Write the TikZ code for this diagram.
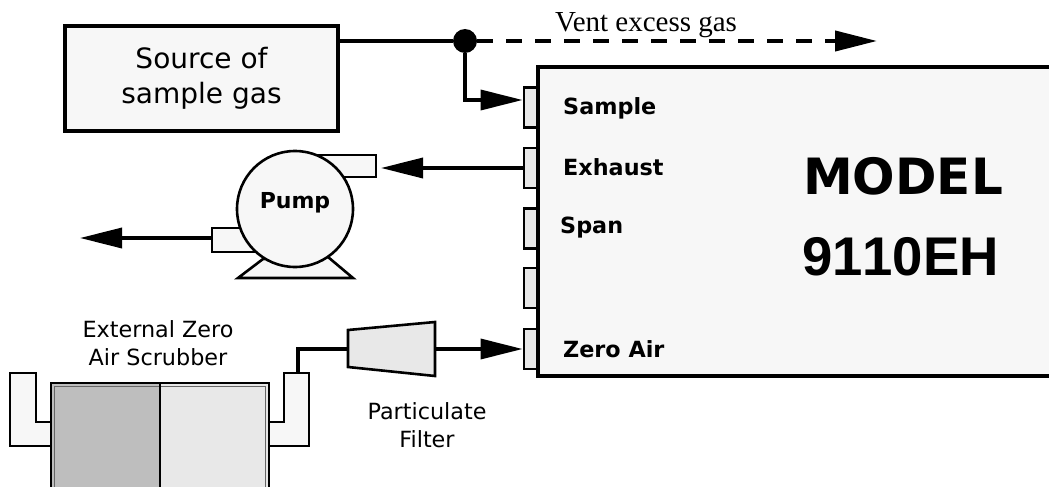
\documentclass[tikz,border=0pt]{standalone}
\usepackage{fontspec}
\setmainfont{DejaVu Sans}
\newfontfamily\ventfont{Liberation Serif}
\newfontfamily\modelfont[Kerning=Off]{Liberation Sans}
\usepackage{tikz}
\usetikzlibrary{arrows.meta, positioning, calc}
\definecolor{panelgrey}{RGB}{247,247,247}
\definecolor{portgrey}{RGB}{232,232,232}
\definecolor{darkgrey}{RGB}{190,190,190}
\tikzset{
  part/.style={draw=black, line width=2.6pt, fill=panelgrey},
  port/.style={draw=black, line width=2.4pt, fill=portgrey, minimum width=13pt, minimum height=40pt, inner sep=0pt, anchor=east},
  pipe/.style={draw=black, line width=3.5pt, -{Triangle[length=42pt, width=20pt]}},
  plainpipe/.style={draw=black, line width=3.5pt},
  label/.style={font=\fontsize{22.3}{28}\selectfont, align=center, inner sep=0pt},
  tag/.style={font=\bfseries\fontsize{22.3}{26}\selectfont, anchor=base west, inner sep=0pt}
}
\begin{document}
\begin{tikzpicture}[x=1pt, y=-1pt]
  \useasboundingbox (0,0) rectangle (1049,487);
  % Model box
  \node[fill=panelgrey, minimum width=511pt, minimum height=309pt, inner sep=0pt] (model) at (793.5,221.5) {};
  \draw[line width=4pt] (model.north east) -- (model.north west) -- (model.south west) -- (model.south east);
  \node[font=\bfseries\fontsize{50}{54}\selectfont, inner sep=0pt, anchor=base] (modeltext) at (903,194) {MODEL};
  \node[font=\modelfont\bfseries\fontsize{54.5}{60}\selectfont, inner sep=0pt, anchor=base] (modelnum) at (900.5,275) {9110EH};
  % Ports
  \node[port] (psample) at (538,107.5) {};
  \node[port] (pexhaust) at (538,168) {};
  \node[port] (pspan) at (538,228.5) {};
  \node[port] (pblank) at (538,288) {};
  \node[port] (pzero) at (538,349) {};
  \node[tag] (tsample) at (563,114) {Sample};
  \node[tag] (texhaust) at (563,175) {Exhaust};
  \node[tag] (tspan) at (560,233) {Span};
  \node[tag] (tzero) at (563,357) {Zero Air};
  % Source
  \node[part, line width=4pt, minimum width=273pt, minimum height=105pt, inner sep=0pt, font=\fontsize{28}{35}\selectfont, align=center] (source) at (201.5,78.5) {Source of\\sample gas};
  \node[fill=black, circle, minimum size=24pt, inner sep=0pt] (junction) at (465,41) {};
  \coordinate (ventend) at (877,41);
  \coordinate (bend) at (465,100);
  \node[font=\ventfont\fontsize{29}{32}\selectfont, inner sep=0pt, anchor=base] (vent) at (646,32) {Vent excess gas};
  \draw[plainpipe] (source.east |- junction) -- (junction);
  \draw[pipe, line width=4pt, dash pattern=on 16pt off 13pt] (junction) -- (ventend);
  \draw[pipe] (junction) -- (bend) -- (psample.west |- bend);
  % Pump
  \coordinate (pumpout) at (212,238);
  \draw[part] (263,259) -- (238,278) -- (353,278) -- (328,257) -- cycle;
  \draw[part] (317,155) rectangle (376,177);
  \draw[part] (212,228) rectangle (260,252);
  \node[part, circle, minimum size=116pt, inner sep=0pt] (pump) at (295,209) {};
  \node[font=\bfseries\fontsize{22}{26}\selectfont, inner sep=0pt, anchor=base] (tpump) at (295,208) {Pump};
  \coordinate (exhaustend) at (381,168);
  \coordinate (outend) at (80,238);
  \draw[pipe] (pexhaust.west) -- (exhaustend);
  \draw[pipe] (pumpout) -- (outend);
  % Scrubber
  \draw[part] (36,373) -- (10,373) -- (10,446) -- (60,446) -- (60,422) -- (36,422) -- cycle;
  \draw[part] (284,373) -- (309,373) -- (309,446) -- (260,446) -- (260,422) -- (284,422) -- cycle;
  \path[fill=darkgrey] (51,383) rectangle (160,490);
  \path[fill=portgrey] (160,383) rectangle (269,490);
  \draw[line width=2.6pt] (51,490) |- (269,383) -- (269,490);
  \draw[line width=1.6pt, draw=black!60] (54.5,490) |- (265.5,386.5) -- (265.5,490);
  \draw[line width=2pt] (160,383) -- (160,490);
  \node[label] (tscrubber) at (158,343) {External Zero\\Air Scrubber};
  % Filter
  \node[inner sep=0pt, minimum size=0pt] (filterin) at (348,349) {};
  \node[inner sep=0pt, minimum size=0pt] (filterout) at (435,349) {};
  \coordinate (scrubout) at (298,373);
  \draw[plainpipe] (scrubout) |- (filterin);
  \draw[part, fill=portgrey] (348,330) -- (435,322) -- (435,376) -- (348,367) -- cycle;
  \draw[pipe] (filterout) -- (pzero.west);
  \node[label] (tfilter) at (427,425) {Particulate\\Filter};
\end{tikzpicture}
\end{document}
